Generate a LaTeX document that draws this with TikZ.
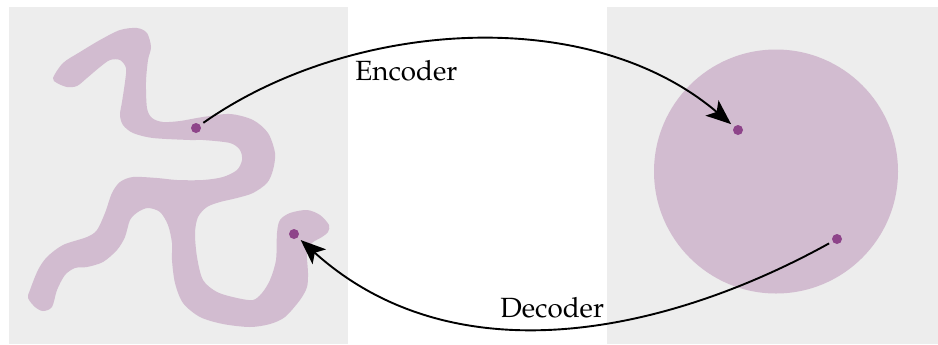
\documentclass[tikz,border=0pt]{standalone}
\usepackage[T1]{fontenc}
\usepackage{mathpazo}
\usetikzlibrary{arrows.meta}
\definecolor{panelgray}{RGB}{237,237,237}
\definecolor{blobcol}{RGB}{210,188,208}
\definecolor{dotcol}{RGB}{142,68,138}
\tikzset{
  panel/.style={fill=panelgray, draw=none},
  blob/.style={fill=blobcol, draw=none},
  pt/.style={circle, fill=dotcol, draw=none, inner sep=0pt, minimum size=5pt, outer sep=2pt},
  conn/.style={draw=black, line width=0.95pt, -{Stealth[length=12.5pt,width=10pt,inset=3pt]}},
  lbl/.style={font=\fontsize{13.9}{16}\selectfont, inner sep=0pt}
}
\begin{document}
\begin{tikzpicture}[x=0.5pt,y=-0.5pt]
\useasboundingbox (0,0) rectangle (938,344);
\fill[white] (0,0) rectangle (938,344);
% panels
\path[panel] (9,7) rectangle (348,344);
\path[panel] (607,7) rectangle (938,344);
% latent circle
\path[blob] (776,171.5) circle[radius=122];
% data manifold blob
\path[blob] plot[smooth cycle, tension=0.5] coordinates {
 (53,78) (63,63) (80,52) (100,40) (120,30) (137,28) (147,33) (151,47) (148,60) (146,82)
 (147,108) (152,118) (163,122) (180,121) (203,117) (230,114) (253,120) (268,133) (275,153)
 (273,170) (267,183) (253,193) (237,198) (220,202) (207,207) (198,217) (195,233) (197,257)
 (203,280) (217,292) (237,298) (253,300) (262,293) (270,280) (276,260) (277,233) (280,220)
 (290,213) (307,210) (320,215) (329,225) (328,232) (322,237) (312,243) (307,253) (308,273)
 (307,287) (300,300) (285,317) (270,324) (250,327) (223,324) (200,317) (183,303) (175,283)
 (172,260) (172,243) (168,225) (160,212) (148,208) (138,212) (130,220) (125,237) (117,250)
 (103,262) (87,267) (75,268) (65,275) (57,290) (52,307) (43,311) (35,307) (28,298) (30,290)
 (38,270) (47,257) (63,245) (87,237) (97,230) (105,213) (112,193) (120,182) (133,177)
 (157,178) (177,180) (203,180) (223,177) (237,170) (242,160) (240,150) (230,143) (203,140)
 (190,140) (153,138) (133,133) (123,125) (120,115) (122,102) (125,82) (126,68) (120,60)
 (110,60) (100,67) (87,78) (77,86) (67,87) (57,83)
};
% points
\node[pt] (x1) at (196,128) {};
\node[pt] (x2) at (294,234) {};
\node[pt] (z1) at (738,130) {};
\node[pt] (z2) at (837,239) {};
% connectors
\draw[conn] (x1) .. controls (348,21) and (587,2) .. (z1);
\draw[conn] (z2) .. controls (669,332) and (456,380) .. (x2);
% labels
\node[lbl, anchor=base west] (enc) at (355,80) {Encoder};
\node[lbl, anchor=base west] (dec) at (500,317) {Decoder};
\end{tikzpicture}
\end{document}
